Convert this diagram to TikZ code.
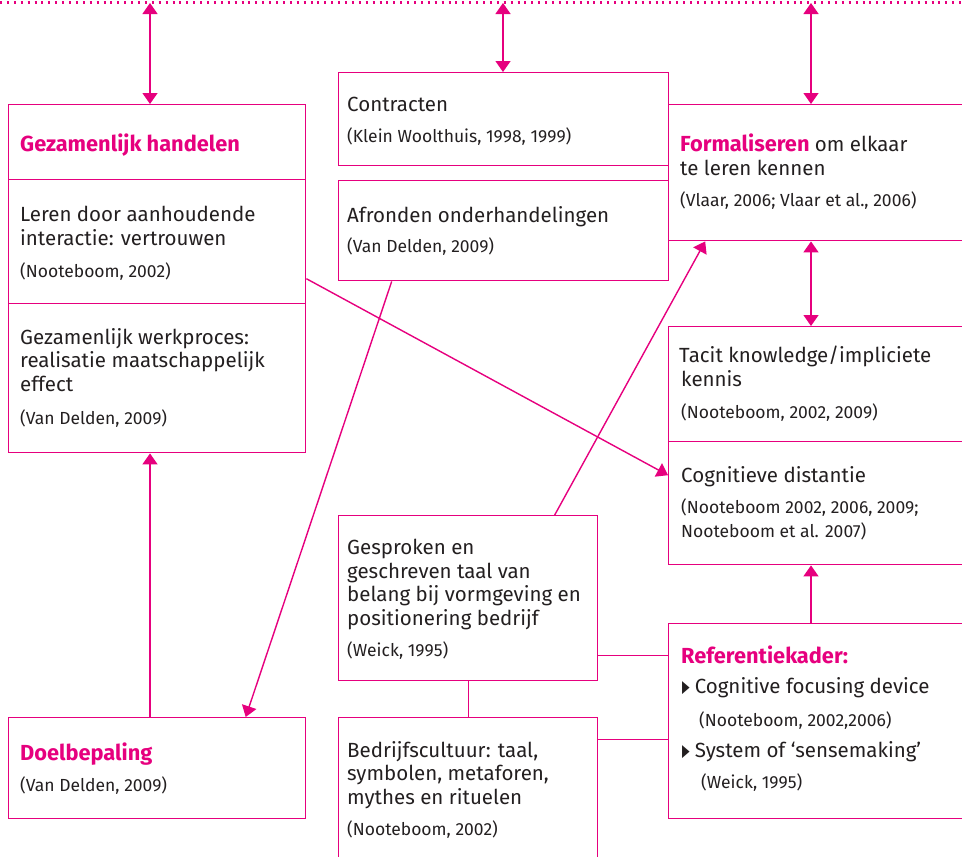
\documentclass[tikz,border=0pt]{standalone}
\usepackage{fontspec}
\setmainfont{Fira Sans}
\newfontfamily\symfont{DejaVu Sans}
\usetikzlibrary{arrows.meta}
\definecolor{roze}{HTML}{E6007E}
\definecolor{tekst}{HTML}{231F20}
\tikzset{
  kader/.style={draw=roze, line width=1.4pt, anchor=north west, inner sep=0pt},
  txt/.style={anchor=base west, inner sep=0pt, text=tekst, align=left,
    font=\fontsize{20.5}{23.5}\selectfont},
  bron/.style={anchor=base west, inner sep=0pt, text=tekst, align=left,
    font=\fontsize{17.5}{24}\selectfont},
  kop/.style={anchor=base west, inner sep=0pt, text=roze,
    font=\bfseries\fontsize{21.8}{24}\selectfont},
  pijl/.style={draw=roze, line width=1.4pt, -{Triangle[length=11pt,width=15pt]}},
  dpijl/.style={draw=roze, line width=1.4pt, {Triangle[length=11pt,width=15pt]}-{Triangle[length=11pt,width=15pt]}},
  lijn/.style={draw=roze, line width=1.3pt},
  stip/.style={draw=roze, line width=2.4pt, dash pattern=on 2pt off 4.9pt},
}
\newcommand{\bol}{\raisebox{0.5pt}{\symfont\fontsize{17}{10}\selectfont\scalebox{0.58}[1]{▶}}\hspace{5pt}}
\begin{document}
\begin{tikzpicture}[x=1pt,y=-1pt]
\clip (0,0) rectangle (962,857);
% stippellijn bovenaan
\draw[stip] (0,2.5) -- (962,2.5);
\coordinate (t1) at (150,3);
\coordinate (t2) at (503,3);
\coordinate (t3) at (811,3);

% linker kolom (tekst: base = laatste regel)
\node[kader, minimum width=297pt, minimum height=75pt] (lkop) at (8,104) {};
\node[kader, minimum width=297pt, minimum height=124pt] (lleren) at (8,179) {};
\node[kader, minimum width=297pt, minimum height=149pt] (lwerk) at (8,303) {};
\node[kader, minimum width=297pt, minimum height=101pt] (doel) at (8,717) {};
\node[kop] (lkopt) at (20,151) {Gezamenlijk handelen};
\node[txt] (llerent) at (20,245) {Leren door aanhoudende\\interactie: vertrouwen};
\node[bron] (llerenb) at (20,277) {(Nooteboom, 2002)};
\node[txt] (lwerkt) at (20,391) {Gezamenlijk werkproces:\\realisatie maatschappelijk\\effect};
\node[bron] (lwerkb) at (20,424) {(Van Delden, 2009)};
\node[kop] (doelt) at (20,760) {Doelbepaling};
\node[bron] (doelb) at (20,791) {(Van Delden, 2009)};

% middelste kolom
\node[kader, minimum width=330pt, minimum height=93pt] (contr) at (338,72) {};
\node[kader, minimum width=330pt, minimum height=100pt] (afr) at (338,180) {};
\node[kader, minimum width=259pt, minimum height=165pt] (gesp) at (338,515) {};
\node[kader, minimum width=259pt, minimum height=160pt] (bedr) at (338,717) {};
\node[txt] (contrt) at (347,111) {Contracten};
\node[bron] (contrb) at (347,142) {(Klein Woolthuis, 1998, 1999)};
\node[txt] (afrt) at (347,222) {Afronden onderhandelingen};
\node[bron] (afrb) at (347,252) {(Van Delden, 2009)};
\node[txt] (gespt) at (347,625) {Gesproken en\\geschreven taal van\\belang bij vormgeving en\\positionering bedrijf};
\node[bron] (gespb) at (347,656) {(Weick, 1995)};
\node[txt] (bedrt) at (347,804) {Bedrijfscultuur: taal,\\symbolen, metaforen,\\mythes en rituelen};
\node[bron] (bedrb) at (347,835) {(Nooteboom, 2002)};

% rechter kolom
\node[kader, minimum width=310pt, minimum height=136pt] (form) at (668,104) {};
\node[kader, minimum width=310pt, minimum height=115pt] (tacit) at (668,326) {};
\node[kader, minimum width=310pt, minimum height=123pt] (cogn) at (668,441) {};
\node[kader, minimum width=310pt, minimum height=195pt] (ref) at (668,623) {};
\node[txt] (formt) at (680,175) {{\bfseries\fontsize{21.8}{23.5}\selectfont\color{roze}Formaliseren} om elkaar\\te leren kennen};
\node[bron] (formb) at (680,206) {(Vlaar, 2006; Vlaar et al., 2006)};
\node[txt] (tacitt) at (679,386) {Tacit knowledge/impliciete\\\hspace{2pt}kennis};
\node[bron] (tacitb) at (681,418) {(Nooteboom, 2002, 2009)};
\node[txt] (cognt) at (681,482) {Cognitieve distantie};
\node[bron] (cognb) at (681,537) {(Nooteboom 2002, 2006, 2009;\\Nooteboom et al. 2007)};
\node[kop] (reft) at (681,663) {Referentiekader:};
\node[txt] (refa) at (682,693) {\bol Cognitive focusing device};
\node[bron] (refab) at (699,726) {(Nooteboom, 2002,2006)};
\node[txt] (refb) at (682,757) {\bol System of ‘sensemaking’};
\node[bron] (refbb) at (701,788) {(Weick, 1995)};

% pijlen
\draw[dpijl] (t1) -- (t1 |- lkop.north);
\draw[dpijl] (t2) -- (t2 |- contr.north);
\draw[dpijl] (t3) -- (t3 |- form.north);
\draw[dpijl] (form.south -| t3) -- (tacit.north -| t3);
\draw[pijl] (ref.north -| t3) -- (cogn.south -| t3);
\draw[pijl] (doel.north -| t1) -- (lwerk.south -| t1);
\draw[pijl] ([yshift=-37pt]lleren.east) -- ([yshift=28pt]cogn.west);
\draw[pijl] ([xshift=-112pt]afr.south) -- ([xshift=88.5pt]doel.north);
\draw[pijl] ([xshift=86.5pt]gesp.north) -- ([xshift=-118.5pt]form.south);

% verbindingslijnen
\draw[lijn] (gesp.south) -- (bedr.north);
\coordinate (g1) at ([yshift=-57.5pt]gesp.east);
\coordinate (b1) at ([yshift=58pt]bedr.east);
\draw[lijn] (g1) -- (g1 -| ref.west);
\draw[lijn] (b1) -- (b1 -| ref.west);
\end{tikzpicture}
\end{document}
